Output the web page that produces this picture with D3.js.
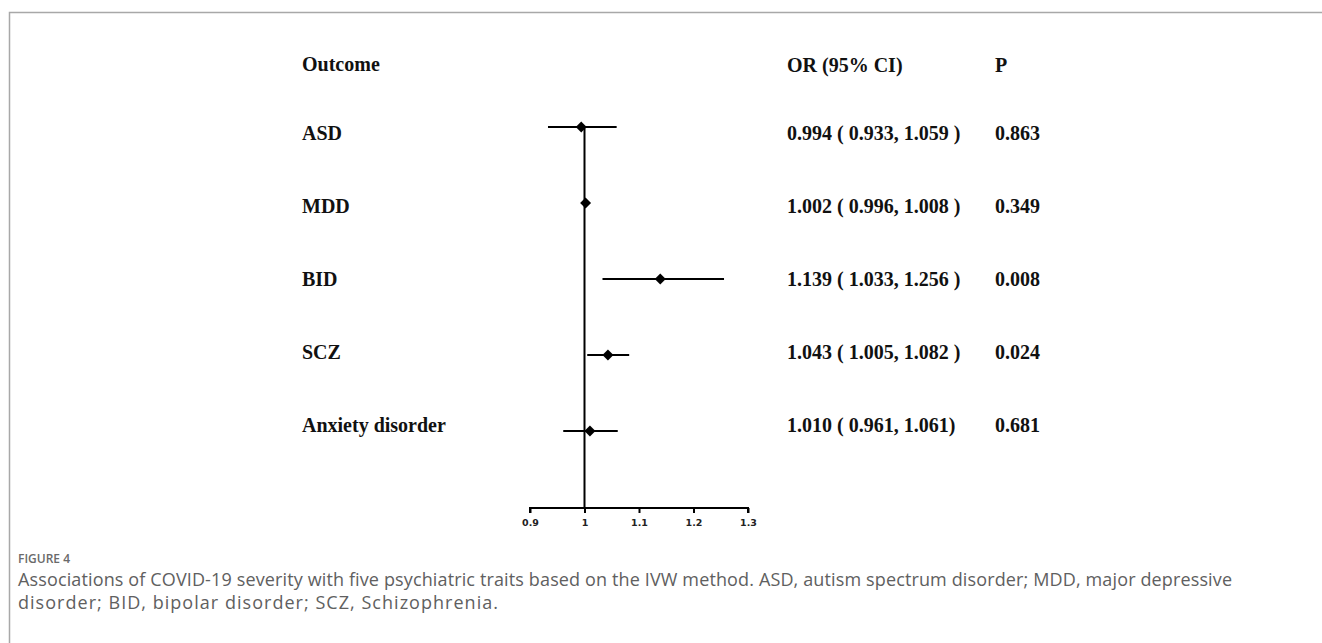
<!DOCTYPE html>
<html>
<head>
<meta charset="utf-8">
<script src="https://cdn.jsdelivr.net/npm/d3@7"></script>
<style>
  html, body { margin: 0; padding: 0; background: #fff; }
  #chart { width: 1322px; height: 643px; }
</style>
</head>
<body>
<div id="chart"></div>
<script>
//Datos
const outcomes = ['ASD', 'MDD', 'BID', 'SCZ', 'Anxiety disorder'];
const orValues = [0.994, 1.002, 1.139, 1.043, 1.010];
const ciLow = [0.933, 0.996, 1.033, 1.005, 0.961];
const ciHigh = [1.059, 1.008, 1.256, 1.082, 1.061];
const ciLabels = ['0.994 ( 0.933, 1.059 )', '1.002 ( 0.996, 1.008 )', '1.139 ( 1.033, 1.256 )', '1.043 ( 1.005, 1.082 )', '1.010 ( 0.961, 1.061)'];
const pValues = ['0.863', '0.349', '0.008', '0.024', '0.681'];
const xTicks = [0.9, 1, 1.1, 1.2, 1.3];

const captionLabel = 'FIGURE 4';
const captionLines = [
    'Associations of COVID-19 severity with five psychiatric traits based on the IVW method. ASD, autism spectrum disorder; MDD, major depressive',
    'disorder; BID, bipolar disorder; SCZ, Schizophrenia.'
];
const captionWidths = [1214, 480];

let width = 1322, height = 643;

let svg = d3.select('#chart')
    .append('svg')
    .attr('width', width)
    .attr('height', height);

//Marco de la figura
svg.append('path')
    .attr('d', 'M9.5,' + height + ' V12.5 H' + width)
    .attr('fill', 'none')
    .attr('stroke', '#a8a8a8')
    .attr('stroke-width', 1.5);

//Escalas
let x = d3.scaleLinear()
    .domain([0.9, 1.3])
    .range([530, 748]);

let yMark = d3.scalePoint()
    .domain(outcomes)
    .range([127, 431]);

let yText = d3.scalePoint()
    .domain(outcomes)
    .range([140, 432]);

let axisY = 508;
const serif = '"Liberation Serif", "Times New Roman", serif';

//Cabeceras
let header = svg.append('g')
    .attr('font-family', serif)
    .attr('font-weight', 'bold')
    .attr('font-size', 20)
    .attr('fill', '#111');

header.append('text').attr('x', 302).attr('y', 71).text('Outcome');
header.append('text').attr('x', 787).attr('y', 72).text('OR (95% CI)');
header.append('text').attr('x', 995).attr('y', 72).text('P');

//Filas de texto
let rows = svg.append('g')
    .attr('font-family', serif)
    .attr('font-weight', 'bold')
    .attr('font-size', 20)
    .attr('fill', '#111')
    .selectAll('g')
    .data(outcomes)
    .enter()
    .append('g');

rows.append('text')
    .attr('x', 302)
    .attr('y', function(d) { return yText(d); })
    .text(function(d) { return d; });

rows.append('text')
    .attr('x', 787)
    .attr('y', function(d) { return yText(d); })
    .text(function(d, i) { return ciLabels[i]; });

rows.append('text')
    .attr('x', 995)
    .attr('y', function(d) { return yText(d); })
    .text(function(d, i) { return pValues[i]; });

//Línea de referencia en OR = 1
svg.append('line')
    .attr('x1', x(1)).attr('x2', x(1))
    .attr('y1', yMark(outcomes[0])).attr('y2', axisY)
    .attr('stroke', '#000')
    .attr('stroke-width', 2);

//Eje X
let xAxis = svg.append('g')
    .attr('transform', 'translate(0,' + axisY + ')')
    .call(d3.axisBottom(x).tickValues(xTicks).tickSize(5).tickSizeOuter(5).tickPadding(6).tickFormat(function(d) { return d; }));

xAxis.select('.domain')
    .attr('stroke', '#000')
    .attr('stroke-width', 2)
    .attr('d', 'M' + x(0.9) + ',5V0H' + x(1.3) + 'V5');

xAxis.selectAll('.tick line')
    .attr('stroke', '#000')
    .attr('stroke-width', 2);

xAxis.selectAll('.tick text')
    .attr('font-family', '"DejaVu Sans", Verdana, sans-serif')
    .attr('font-weight', 'bold')
    .attr('font-size', 9.5)
    .attr('fill', '#222');

//Intervalos de confianza
let marks = svg.append('g')
    .selectAll('g')
    .data(outcomes)
    .enter()
    .append('g');

marks.append('line')
    .attr('x1', function(d, i) { return x(ciLow[i]); })
    .attr('x2', function(d, i) { return x(ciHigh[i]); })
    .attr('y1', function(d) { return yMark(d); })
    .attr('y2', function(d) { return yMark(d); })
    .attr('stroke', '#000')
    .attr('stroke-width', 2);

marks.append('path')
    .attr('d', d3.symbol().type(d3.symbolSquare).size(60))
    .attr('transform', function(d, i) { return 'translate(' + x(orValues[i]) + ',' + yMark(d) + ') rotate(45)'; })
    .attr('fill', '#000');

//Pie de figura
let caption = svg.append('g')
    .attr('font-family', '"Open Sans", "Noto Sans", sans-serif')
    .attr('fill', '#606060');

caption.append('text')
    .attr('x', 18)
    .attr('y', 563)
    .attr('font-size', 12)
    .attr('font-weight', 600)
    .attr('fill', '#6a6a6a')
    .text(captionLabel);

caption.selectAll('.line')
    .data(captionLines)
    .enter()
    .append('text')
    .attr('class', 'line')
    .attr('x', 18)
    .attr('y', function(d, i) { return 586 + i * 23; })
    .attr('font-size', 18)
    .attr('textLength', function(d, i) { return captionWidths[i]; })
    .attr('lengthAdjust', 'spacing')
    .text(function(d) { return d; });
</script>
</body>
</html>
